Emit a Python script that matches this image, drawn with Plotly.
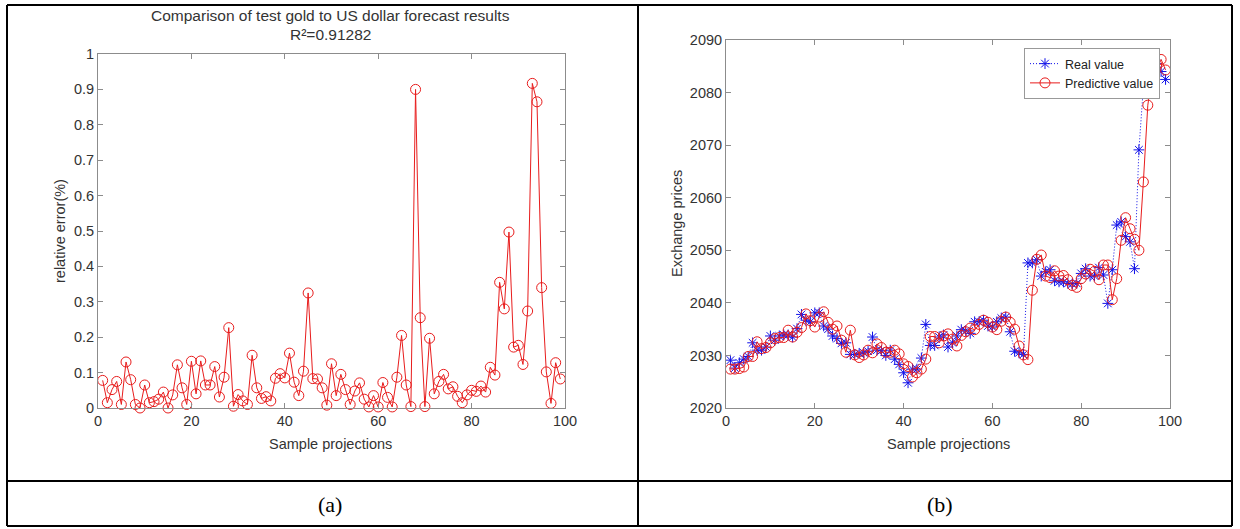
import plotly.graph_objects as go

W, H = 1240, 529

# ---------------- data ----------------
sample_idx = list(range(1, 100))

relative_error = [
    0.078, 0.015, 0.052, 0.075, 0.010, 0.130, 0.080, 0.010, 0.000, 0.065,
    0.015, 0.018, 0.025, 0.045, 0.000, 0.037, 0.122, 0.057, 0.010, 0.132,
    0.040, 0.133, 0.065, 0.065, 0.117, 0.031, 0.087, 0.227, 0.005, 0.038,
    0.020, 0.010, 0.149, 0.057, 0.027, 0.032, 0.020, 0.084, 0.097, 0.085,
    0.155, 0.073, 0.035, 0.104, 0.325, 0.083, 0.082, 0.057, 0.008, 0.125,
    0.035, 0.095, 0.052, 0.010, 0.048, 0.071, 0.025, 0.003, 0.035, 0.003,
    0.072, 0.030, 0.003, 0.087, 0.205, 0.065, 0.004, 0.900, 0.255, 0.004,
    0.197, 0.040, 0.075, 0.095, 0.054, 0.060, 0.033, 0.015, 0.037, 0.050,
    0.047, 0.062, 0.045, 0.115, 0.093, 0.355, 0.280, 0.497, 0.172, 0.177,
    0.123, 0.274, 0.917, 0.865, 0.340, 0.102, 0.013, 0.128, 0.082,
]

real_value = [
    2029.1, 2027.6, 2028.6, 2029.3, 2029.8, 2032.4, 2031.0, 2031.0, 2031.6, 2033.7,
    2032.9, 2033.7, 2033.9, 2033.9, 2033.5, 2035.1, 2037.8, 2036.7, 2036.4, 2038.1,
    2038.1, 2035.6, 2035.0, 2033.7, 2033.2, 2032.3, 2032.4, 2030.2, 2030.2, 2030.4,
    2030.5, 2030.8, 2033.5, 2031.0, 2030.9, 2030.0, 2031.0, 2029.3, 2028.3, 2026.7,
    2024.8, 2027.4, 2027.4, 2029.5, 2035.9, 2031.9, 2031.9, 2033.5, 2033.9, 2031.6,
    2032.4, 2033.7, 2034.9, 2034.7, 2034.2, 2036.4, 2036.4, 2036.7, 2035.6, 2035.4,
    2036.4, 2037.1, 2037.3, 2034.5, 2030.8, 2030.5, 2030.2, 2047.6, 2047.6, 2048.2,
    2045.1, 2045.9, 2046.3, 2044.2, 2044.0, 2044.0, 2043.7, 2043.6, 2043.7, 2045.6,
    2046.5, 2045.1, 2045.1, 2046.7, 2045.3, 2039.9, 2046.3, 2054.8, 2055.4, 2052.6,
    2051.6, 2046.5, 2069.1, 2081.0, 2084.7, 2085.6, 2085.5, 2084.0, 2082.5,
]

predictive_value = [
    2027.4, 2027.4, 2027.5, 2027.8, 2029.8, 2029.8, 2032.6, 2031.3, 2031.5, 2032.4,
    2033.2, 2033.4, 2033.4, 2034.8, 2033.5, 2034.4, 2035.3, 2037.9, 2036.6, 2035.4,
    2037.3, 2038.3, 2036.3, 2035.0, 2035.6, 2032.9, 2030.6, 2034.8, 2030.1, 2029.6,
    2030.1, 2031.0, 2030.5, 2032.2, 2031.5, 2030.6, 2030.6, 2031.0, 2030.3, 2028.4,
    2027.9, 2025.9, 2026.7, 2027.4, 2029.3, 2033.6, 2033.6, 2032.4, 2033.7, 2034.1,
    2033.1, 2031.8, 2033.8, 2034.5, 2035.2, 2034.9, 2035.9, 2036.7, 2036.3, 2035.4,
    2034.9, 2036.5, 2037.3, 2036.3, 2035.0, 2031.8, 2030.1, 2029.2, 2042.4, 2048.3,
    2049.1, 2045.1, 2044.8, 2046.1, 2045.1, 2045.2, 2044.4, 2043.3, 2042.95, 2044.6,
    2045.5, 2046.4, 2046.0, 2044.4, 2047.2, 2047.2, 2040.6, 2044.6, 2051.9, 2056.2,
    2054.1, 2052.1, 2050.0, 2063.0, 2077.6, 2083.5, 2085.3, 2086.3, 2084.3,
]

x_ticks = [0, 20, 40, 60, 80, 100]
err_ticks = [0, 0.1, 0.2, 0.3, 0.4, 0.5, 0.6, 0.7, 0.8, 0.9, 1.0]
err_tick_labels = ["0", "0.1", "0.2", "0.3", "0.4", "0.5", "0.6", "0.7", "0.8", "0.9", "1"]
price_ticks = [2020, 2030, 2040, 2050, 2060, 2070, 2080, 2090]

# ---------------- figure ----------------
SANS = "Liberation Sans, Arial, sans-serif"
SERIF = "Liberation Serif, Times New Roman, serif"
AX = "#8c8c8c"
TXT = "#333333"
RED = "#e81c1c"
BLUE = "#1010e8"

fig = go.Figure()

fig.add_trace(go.Scatter(
    x=sample_idx, y=relative_error, mode="lines+markers",
    line=dict(color=RED, width=1),
    marker=dict(symbol="circle-open", size=10, color=RED, line=dict(width=1, color=RED)),
    xaxis="x", yaxis="y", showlegend=False, cliponaxis=False,
))
fig.add_trace(go.Scatter(
    x=sample_idx, y=real_value, mode="lines+markers", name="Real value",
    line=dict(color=BLUE, width=1, dash="1px,2px"),
    marker=dict(symbol="asterisk-open", size=9, color=BLUE, line=dict(width=1, color=BLUE)),
    xaxis="x2", yaxis="y2",
))
fig.add_trace(go.Scatter(
    x=sample_idx, y=predictive_value, mode="lines+markers", name="Predictive value",
    line=dict(color=RED, width=1),
    marker=dict(symbol="circle-open", size=10, color=RED, line=dict(width=1, color=RED)),
    xaxis="x2", yaxis="y2",
))

axis_common = dict(
    showline=True, linecolor=AX, linewidth=1, mirror="ticks",
    ticks="inside", ticklen=5, tickcolor=AX, tickwidth=1,
    showgrid=False, zeroline=False, automargin=False,
    tickfont=dict(family=SANS, size=14.5, color=TXT),
)

# initial size fits inside the window with the default body margin;
# the post script removes the margin and grows the figure to the full window.
fig.update_layout(
    width=W - 16, height=H - 16,
    margin=dict(l=0, r=0, t=0, b=0, autoexpand=False),
    paper_bgcolor="white", plot_bgcolor="white",
    xaxis=dict(domain=[98 / W, 565 / W], range=[0, 100], tickvals=x_ticks, anchor="y", **axis_common),
    yaxis=dict(domain=[1 - 408 / H, 1 - 54 / H], range=[0, 1], tickvals=err_ticks,
               ticktext=err_tick_labels, anchor="x", **axis_common),
    xaxis2=dict(domain=[726 / W, 1170 / W], range=[0, 100], tickvals=x_ticks, anchor="y2", **axis_common),
    yaxis2=dict(domain=[1 - 408 / H, 1 - 40 / H], range=[2020, 2090], tickvals=price_ticks,
                anchor="x2", **axis_common),
    legend=dict(
        x=1160 / W, y=1 - 48 / H, xanchor="right", yanchor="top",
        bgcolor="white", bordercolor="#999999", borderwidth=1,
        font=dict(family=SANS, size=12.5, color="#222222"),
        tracegroupgap=0, itemwidth=30,
    ),
    showlegend=True,
)

# table grid
LINE = dict(color="black", width=2)
grid_lines = [
    (7, 5, 1232, 5), (7, 526, 1232, 526), (7, 481, 1232, 481),
    (7, 5, 7, 526), (638, 5, 638, 526), (1232, 5, 1232, 526),
]
for x0, y0, x1, y1 in grid_lines:
    fig.add_shape(type="line", xref="paper", yref="paper",
                  x0=x0 / W, x1=x1 / W, y0=1 - y0 / H, y1=1 - y1 / H, line=LINE)


def ann(text, px, py, size, family=SANS, angle=0, color=TXT):
    fig.add_annotation(text=text, x=px / W, y=1 - py / H, xref="paper", yref="paper",
                       xanchor="center", yanchor="middle", showarrow=False, textangle=angle,
                       font=dict(family=family, size=size, color=color))


ann("Comparison of test gold to US dollar forecast results", 331, 15, 15.5)
ann("R²=0.91282", 331, 35, 15.5)
ann("Sample projections", 331, 444, 14.5)
ann("Sample projections", 948, 444, 14.5)
ann("relative error(%)", 60, 231, 14.5, angle=-90)
ann("Exchange prices", 677, 224, 14.5, angle=-90)
ann("(a)", 330, 504, 22, family=SERIF, color="black")
ann("(b)", 940, 504, 22, family=SERIF, color="black")

post = (
    "var gd=document.getElementById('{plot_id}');"
    "document.body.style.margin='0';"
    "document.body.style.overflow='hidden';"
    "gd.style.width='%dpx';gd.style.height='%dpx';"
    "Plotly.relayout(gd,{width:%d,height:%d});" % (W, H, W, H)
)

fig.write_html("out.html", config={"displayModeBar": False}, post_script=post)
